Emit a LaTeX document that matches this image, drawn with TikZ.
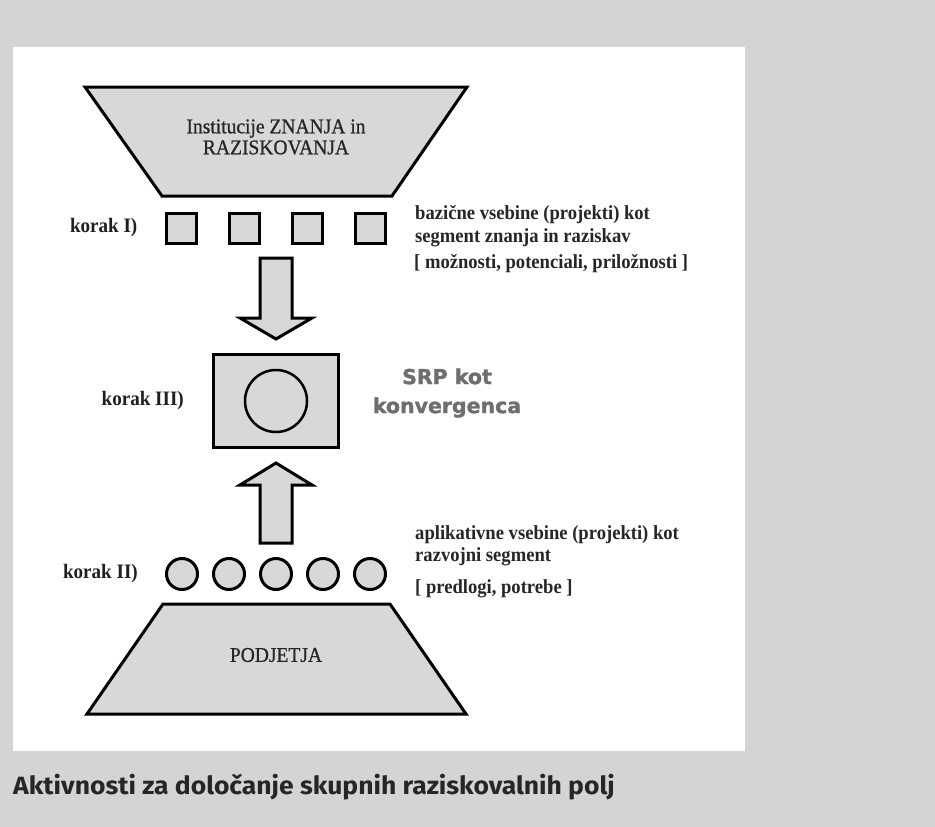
\documentclass[tikz,border=0pt]{standalone}
\usepackage{fontspec}
\setmainfont{Liberation Serif}[FakeStretch=0.93]
\newfontfamily\trapfont{Liberation Serif}[FakeStretch=0.93,FakeBold=0.8]
\newfontfamily\srpfont{DejaVu Sans}[BoldFeatures={FakeBold=1.5}]
\newfontfamily\capfont{Fira Sans}[FakeStretch=1.06]
\usetikzlibrary{positioning}
\definecolor{pagegray}{HTML}{D3D4D6}
\definecolor{shapegray}{HTML}{D8D8DA}
\definecolor{srpgray}{HTML}{6E6E6E}
\tikzset{
  outline/.style={draw=black,line width=3pt,fill=shapegray,line join=miter},
  box/.style={outline,rectangle,minimum size=30pt,inner sep=0pt},
  dot/.style={outline,circle,minimum size=31pt,inner sep=0pt},
  koraklabel/.style={inner sep=0pt,text=black!88,font=\fontsize{20.5}{22}\selectfont\bfseries},
  note/.style={inner sep=0pt,anchor=west,align=left,text=black!85,font=\fontsize{20}{22.5}\selectfont\bfseries},
  trapeztext/.style={inner sep=0pt,align=center,text=black!85,font=\trapfont\fontsize{21}{21}\selectfont}
}
\begin{document}
\begin{tikzpicture}[x=1pt,y=-1pt]
\fill[pagegray] (0,0) rectangle (935,827);
\fill[white] (13,47) rectangle (745,751);
% knowledge institutions
\draw[outline] (85,87) -- (467,87) -- (392,196) -- (162,196) -- cycle;
\node[trapeztext] (inst) at (276,137) {Institucije ZNANJA in\\RAZISKOVANJA};
% step I
\foreach \i/\x in {1/181,2/244,3/307,4/370}
  \node[box] (sq\i) at (\x,228) {};
\node[koraklabel,left=27pt of sq1] (k1) {korak I)};
\node[note] (basic) at (415,226) {bazične vsebine (projekti) kot\\segment znanja in raziskav};
\node[note] (basicx) at (414,264) {[ možnosti, potenciali, priložnosti ]};
% arrows
\draw[outline] (260,258) -- (292,258) -- (292,318) -- (312,318) -- (276,339)
  -- (240,318) -- (260,318) -- cycle;
\draw[outline] (260,543) -- (292,543) -- (292,485) -- (312,485) -- (276,463)
  -- (240,485) -- (260,485) -- cycle;
% step III
\node[outline,minimum width=125pt,minimum height=93pt] (srp) at (276,401) {};
\node[outline,circle,line width=2.5pt,minimum size=62pt] (core) at (srp.center) {};
\node[koraklabel,left=28pt of srp] (k3) {korak III)};
\node[inner sep=0pt,align=center,text=srpgray,
  font=\srpfont\bfseries\fontsize{20.5}{29}\selectfont] (conv) at (447,393) {SRP kot\\konvergenca};
% step II
\foreach \i/\x in {1/182,2/229,3/276,4/323,5/370}
  \node[dot] (ci\i) at (\x,574) {};
\node[koraklabel,left=27pt of ci1] (k2) {korak II)};
\node[note] (appl) at (415,546) {aplikativne vsebine (projekti) kot\\razvojni segment};
\node[note] (applx) at (415,589) {[ predlogi, potrebe ]};
% companies
\draw[outline] (163,604) -- (390,604) -- (466,714) -- (87,714) -- cycle;
\node[trapeztext] (firms) at (276,655) {PODJETJA};
% caption
\node[anchor=west,inner sep=0pt,text=black!85,
  font=\capfont\bfseries\fontsize{25}{28}\selectfont] (cap) at (13,787) {Aktivnosti za določanje skupnih raziskovalnih polj};
\end{tikzpicture}
\end{document}
